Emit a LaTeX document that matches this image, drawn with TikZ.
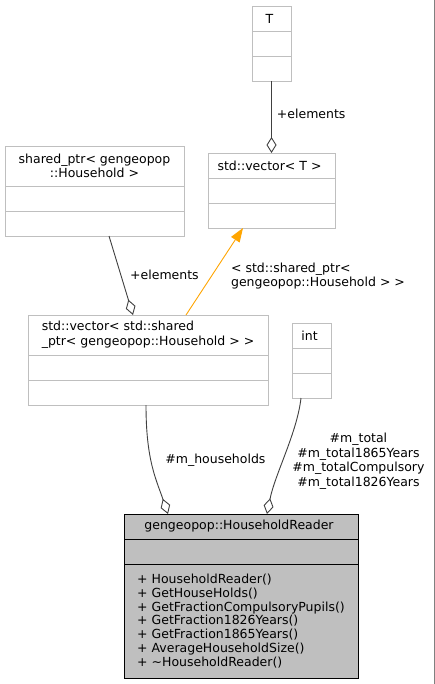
\documentclass[tikz,border=0pt]{standalone}
\usepackage{fontspec}
\setmainfont{DejaVu Sans}
\usepackage{tikz}
\usetikzlibrary{positioning,arrows.meta}
\definecolor{edgegray}{HTML}{404040}
\definecolor{boxgray}{HTML}{BFBFBF}
\definecolor{inherit}{HTML}{FFA500}
\newcommand{\dfont}{\fontsize{12.5}{14.6}\selectfont}
\tikzset{
	cls/.style = { draw = boxgray, fill = white, line width = 0.8pt,
		inner sep = 0pt, outer sep = 0pt, minimum height = 25pt,
		align = center, font = \dfont, text = black },
	main/.style = { cls, draw = black, fill = boxgray },
	member/.style = { edgegray, line width = 0.9pt,
		-{Diamond[open, length = 16pt, width = 10pt]} },
	lbl/.style = { inner sep = 0pt, align = center, font = \dfont, 
		text = black }
}

\begin{document}
\begin{tikzpicture}[ x = 1pt, y = -1pt ]
	\fill [ white ] (0,0) rectangle (435,684);
	\useasboundingbox (0,0) rectangle (435,684);
	\draw [ gray, line width = 0.8pt ] (434.5,0) -- (434.5,684);
	\node [ cls, anchor = north west, minimum width = 39pt ] (1) at (252,6) 
		{ T };
	\node [ cls, minimum width = 39pt, below = 0pt of 1 ] (1a) {};
	\node [ cls, minimum width = 39pt, below = 0pt of 1a ] (1b) {};
	\node [ cls, anchor = north west, minimum width = 127pt ] (2) at (208,153) 
		{ std::vector< T > };
	\node [ cls, minimum width = 127pt, below = 0pt of 2 ] (2a) {};
	\node [ cls, minimum width = 127pt, below = 0pt of 2a ] (2b) {};
	\node [ cls, anchor = north west, minimum width = 179pt, 
		minimum height = 40pt ] (3) at (5,146) 
		{ shared\_ptr< gengeopop \\ ::Household > };
	\node [ cls, minimum width = 179pt, below = 0pt of 3 ] (3a) {};
	\node [ cls, minimum width = 179pt, below = 0pt of 3a ] (3b) {};
	\node [ cls, anchor = north west, minimum width = 240pt, 
		minimum height = 40pt, align = left ] (4) at (28,315) 
		{ std::vector< std::shared \\ \_ptr< gengeopop::Household > > };
	\node [ cls, minimum width = 240pt, below = 0pt of 4 ] (4a) {};
	\node [ cls, minimum width = 240pt, below = 0pt of 4a ] (4b) {};
	\node [ cls, anchor = north west, minimum width = 39pt ] (5) at (292,323) 
		{ int };
	\node [ cls, minimum width = 39pt, below = 0pt of 5 ] (5a) {};
	\node [ cls, minimum width = 39pt, below = 0pt of 5a ] (5b) {};
	\node [ main, anchor = north west, minimum width = 234pt ] (6) at (124,514) 
		{ gengeopop::HouseholdReader };
	\node [ main, minimum width = 234pt, below = 0pt of 6 ] (6a) {};
	\node [ main, minimum width = 234pt, minimum height = 114pt, 
		align = left, font = \fontsize{12.5}{13.9}\selectfont, 
		below = 0pt of 6a ] (6b) 
		{ + HouseholdReader() \\ 
		+ GetHouseHolds() \\ 
		+ GetFractionCompulsoryPupils() \\ 
		+ GetFraction1826Years() \\ 
		+ GetFraction1865Years() \\ 
		+ AverageHouseholdSize() \\ 
		+ \textasciitilde HouseholdReader() };
	\draw [ member ] (1b.south) to 
		node [ lbl, pos = 0.45, right = 5pt ] { +elements } 
		(2.north);
	\draw [ member ] ([xshift = 14.5pt]3b.south) to 
		node [ lbl, pos = 0.49, right = 9pt ] { +elements } 
		([xshift = -15pt]4.north);
	\draw [ inherit, line width = 0.9pt, 
		-{Triangle[length = 14pt, width = 10pt]} ] 
		([xshift = 38pt]4.north) to 
		node [ lbl, align = left, pos = 0.45, right = 19pt ] 
		{ < std::shared\_ptr< \\ gengeopop::Household > > } 
		([xshift = -28.5pt]2b.south);
	\draw [ member ] ([xshift = -2pt]4b.south) 
		.. controls +(0,55) and +(-12,-35) .. 
		([xshift = -73pt]6.north) 
		node [ lbl, pos = 0.43, right = 14pt ] { \#m\_households };
	\draw [ member ] ([xshift = -10.5pt]5b.south) 
		.. controls +(-4,35) and +(8,-40) .. 
		([xshift = 26pt]6.north) 
		node [ lbl, pos = 0.56, right = 9pt ] 
		{ \#m\_total \\ \#m\_total1865Years \\ 
		\#m\_totalCompulsory \\ \#m\_total1826Years };
\end{tikzpicture}
\end{document}
